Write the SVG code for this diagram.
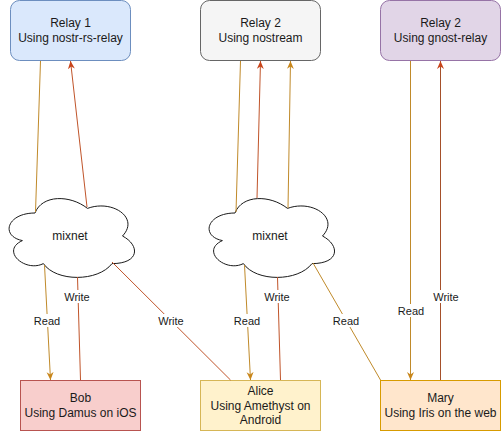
<svg xmlns="http://www.w3.org/2000/svg" width="501" height="431" viewBox="0 0 501 431">
<style>
text{font-family:"Liberation Sans",Arial,sans-serif;fill:#1a1a1a;text-anchor:middle}
.t{font-size:12px}
.l{font-size:11px}
.rd{stroke:#c08a2a;stroke-width:1;fill:none}
.wr{stroke:#c0542a;stroke-width:1;fill:none}
.wr2{stroke:#a5502a;stroke-width:1;fill:none}
.lb{fill:#ffffff}
.cloud{fill:#ffffff;stroke:#1a1a1a;stroke-width:1}
</style>
<defs>
<marker id="ar" markerUnits="userSpaceOnUse" markerWidth="9" markerHeight="8" refX="8" refY="3.5" orient="auto"><path d="M0,0 L8,3.5 L0,7 L2.5,3.5 z" fill="#c8861a"/></marker>
<marker id="aw" markerUnits="userSpaceOnUse" markerWidth="9" markerHeight="8" refX="8" refY="3.5" orient="auto"><path d="M0,0 L8,3.5 L0,7 L2.5,3.5 z" fill="#c8441a"/></marker>
<path id="cl" d="M35,23 C7,23 0,46 22.4,50.6 C0,60.7 25.2,82.8 43.4,73.6 C56,92 98,92 112,73.6 C140,73.6 140,55.2 122.5,46 C140,27.6 112,9.2 87.5,18.4 C70,4.6 42,4.6 35,23 Z"/>
</defs>
<g id="relay1"><rect x="10.5" y="0.5" width="120" height="60" rx="9" fill="#dae8fc" stroke="#6c8ebf"/><text class="t" x="70.5" y="27">Relay 1</text><text class="t" x="70.5" y="42">Using nostr-rs-relay</text></g>
<g id="relay2"><rect x="200.5" y="0.5" width="120" height="60" rx="9" fill="#f5f5f5" stroke="#666666"/><text class="t" x="260.5" y="27" fill="#333">Relay 2</text><text class="t" x="260.5" y="42">Using nostream</text></g>
<g id="relay3"><rect x="380.5" y="0.5" width="120" height="60" rx="9" fill="#e1d5e7" stroke="#9673a6"/><text class="t" x="440.5" y="27">Relay 2</text><text class="t" x="440.5" y="42">Using gnost-relay</text></g>
<g id="mixnet1"><use href="#cl" x="0" y="190" class="cloud"/><text class="t" x="70" y="240">mixnet</text></g>
<g id="mixnet2"><use href="#cl" x="200" y="190" class="cloud"/><text class="t" x="270" y="240">mixnet</text></g>
<g id="bob"><rect x="20.5" y="380.5" width="120" height="50" fill="#f8cecc" stroke="#b85450"/><text class="t" x="80.5" y="402">Bob</text><text class="t" x="80.5" y="417">Using Damus on iOS</text></g>
<g id="alice"><rect x="200.5" y="380.5" width="120" height="50" fill="#fff2cc" stroke="#d6b656"/><text class="t" x="260.5" y="394.5">Alice</text><text class="t" x="260.5" y="409.5">Using Amethyst on</text><text class="t" x="260.5" y="424">Android</text></g>
<g id="mary"><rect x="380.5" y="380.5" width="120" height="50" fill="#ffe6cc" stroke="#d79b00"/><text class="t" x="440.5" y="402">Mary</text><text class="t" x="440.5" y="417">Using Iris on the web</text></g>
<g id="connectors">
<line class="rd" x1="40.5" y1="61" x2="35.5" y2="212"/>
<line class="wr" x1="87" y1="207" x2="70.5" y2="61" marker-end="url(#aw)"/>
<line class="rd" x1="44.5" y1="265" x2="50.5" y2="380" marker-end="url(#ar)"/>
<line class="wr" x1="80.5" y1="380" x2="77.5" y2="277"/>
<line class="wr" x1="112" y1="262" x2="230.5" y2="380"/>
<line class="rd" x1="240.5" y1="61" x2="236" y2="212"/>
<line class="wr" x1="257" y1="198" x2="260.5" y2="61" marker-end="url(#aw)"/>
<line class="rd" x1="288" y1="208" x2="290.5" y2="61" marker-end="url(#ar)"/>
<line class="rd" x1="244.5" y1="265" x2="250.5" y2="380" marker-end="url(#ar)"/>
<line class="wr" x1="280.5" y1="380" x2="277.5" y2="277"/>
<line class="rd" x1="313" y1="263" x2="380.5" y2="380"/>
<line class="rd" x1="410.5" y1="61" x2="410.5" y2="380" marker-end="url(#ar)"/>
<line class="wr2" x1="440.5" y1="380" x2="440.5" y2="61" marker-end="url(#aw)"/>
<g id="labels">
<rect class="lb" x="33" y="314" width="28" height="13"/><text class="l" x="47" y="325">Read</text>
<rect class="lb" x="63" y="290" width="29" height="13"/><text class="l" x="77" y="301">Write</text>
<rect class="lb" x="157" y="314" width="29" height="13"/><text class="l" x="171" y="325">Write</text>
<rect class="lb" x="233" y="314" width="28" height="13"/><text class="l" x="247" y="325">Read</text>
<rect class="lb" x="263" y="290" width="29" height="13"/><text class="l" x="277" y="301">Write</text>
<rect class="lb" x="332" y="314" width="28" height="13"/><text class="l" x="346" y="325">Read</text>
<rect class="lb" x="397" y="304" width="28" height="13"/><text class="l" x="411" y="315">Read</text>
<rect class="lb" x="432" y="290" width="29" height="13"/><text class="l" x="446" y="301">Write</text>
</g>
</g>
</svg>
